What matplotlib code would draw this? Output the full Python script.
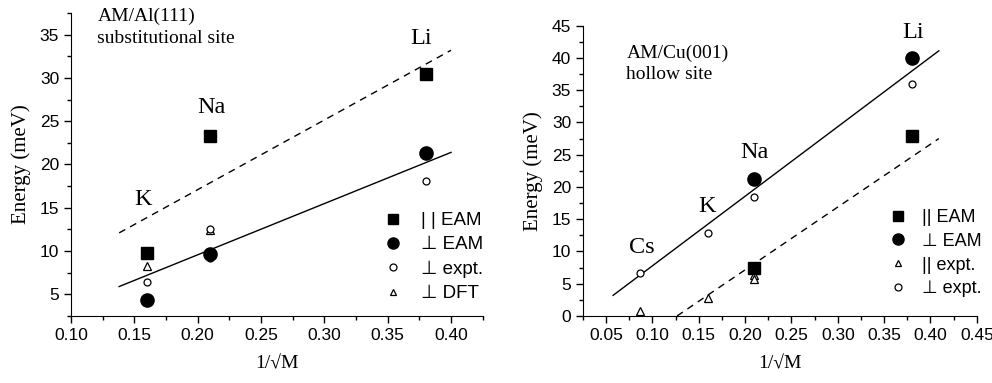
import numpy as np
import matplotlib
matplotlib.use('Agg')
import matplotlib.pyplot as plt
from matplotlib.ticker import MultipleLocator, AutoMinorLocator
from matplotlib.lines import Line2D

# Painel esquerdo: AM/Al(111), sitio substitucional
al_x = [0.16, 0.21, 0.38]
al_par_eam = [9.8, 23.3, 30.4]
al_perp_eam = [4.4, 9.7, 21.3]
al_perp_expt_x = [0.16, 0.21, 0.21, 0.38]
al_perp_expt = [6.4, 12.5, 9.2, 18.1]
al_perp_dft_x = [0.16, 0.21]
al_perp_dft = [8.3, 12.4]
al_fit_x = [0.138, 0.40]
al_fit_solid = [5.9, 21.4]
al_fit_dash = [12.1, 33.2]
al_names = ['K', 'Na', 'Li']
al_name_pos = [(0.157, 16.0), (0.211, 26.6), (0.376, 34.5)]

# Painel direito: AM/Cu(001), sitio hollow
cu_eam_x = [0.21, 0.38]
cu_par_eam = [7.4, 27.9]
cu_perp_eam = [21.3, 40.0]
cu_par_expt_x = [0.087, 0.16, 0.21, 0.21]
cu_par_expt = [0.7, 2.8, 6.3, 5.7]
cu_perp_expt_x = [0.087, 0.16, 0.21, 0.38]
cu_perp_expt = [6.7, 12.9, 18.5, 36.0]
cu_fit_solid_x = [0.0575, 0.409]
cu_fit_solid = [3.2, 41.1]
cu_fit_dash_x = [0.1265, 0.409]
cu_fit_dash = [0.0, 27.5]
cu_names = ['Cs', 'K', 'Na', 'Li']
cu_name_pos = [(0.089, 10.6), (0.159, 17.0), (0.21, 25.3), (0.381, 44.0)]

serif = 'Liberation Serif'
sans = ['Liberation Sans', 'DejaVu Sans']
plt.rcParams['font.family'] = sans

fig = plt.figure(figsize=(9.92, 3.83), dpi=100)
ax1 = fig.add_axes([0.0716, 0.175, 0.415, 0.791])
ax2 = fig.add_axes([0.5877, 0.175, 0.397, 0.758])

sq = dict(marker='s', color='black', ms=9, ls='none')
fc = dict(marker='o', color='black', ms=9.5, ls='none')
oc = dict(marker='o', mfc='white', mec='black', ms=5, mew=0.9, ls='none')
tr = dict(marker='^', mfc='white', mec='black', ms=5.5, mew=0.9, ls='none')

# esquerda
ax1.plot(al_fit_x, al_fit_dash, 'k--', lw=1, dashes=(5, 4))
ax1.plot(al_fit_x, al_fit_solid, 'k-', lw=1)
ax1.plot(al_perp_dft_x, al_perp_dft, **tr)
ax1.plot(al_perp_expt_x, al_perp_expt, **oc)
ax1.plot(al_x, al_par_eam, **sq)
ax1.plot(al_x, al_perp_eam, **fc)
for n, (px, py) in zip(al_names, al_name_pos):
    ax1.text(px, py, n, family=serif, fontsize=17.5, ha='center', va='center')
ax1.text(0.064, 1.018, 'AM/Al(111)\nsubstitutional site', transform=ax1.transAxes,
         family=serif, fontsize=14, va='top', ha='left', linespacing=1.4)
ax1.set_xlim(0.10, 0.425)
ax1.set_ylim(2.5, 37.5)
ax1.xaxis.set_major_locator(MultipleLocator(0.05))
ax1.set_yticks(np.arange(5, 36, 5))

# direita
ax2.plot(cu_fit_solid_x, cu_fit_solid, 'k-', lw=1)
ax2.plot(cu_fit_dash_x, cu_fit_dash, 'k--', lw=1, dashes=(5, 4))
ax2.plot(cu_par_expt_x, cu_par_expt, **tr)
ax2.plot(cu_perp_expt_x, cu_perp_expt, **oc)
ax2.plot(cu_eam_x, cu_par_eam, **sq)
ax2.plot(cu_eam_x, cu_perp_eam, **fc)
for n, (px, py) in zip(cu_names, cu_name_pos):
    ax2.text(px, py, n, family=serif, fontsize=17.5, ha='center', va='center')
ax2.text(0.11, 0.935, 'AM/Cu(001)\nhollow site', transform=ax2.transAxes,
         family=serif, fontsize=14, va='top', ha='left', linespacing=1.3)
ax2.set_xlim(0.025, 0.45)
ax2.set_ylim(0, 45)
ax2.set_xticks(np.arange(0.05, 0.451, 0.05))
ax2.yaxis.set_major_locator(MultipleLocator(5))

for ax in (ax1, ax2):
    for s in ('top', 'right'):
        ax.spines[s].set_visible(False)
    ax.xaxis.set_minor_locator(AutoMinorLocator(2))
    ax.yaxis.set_minor_locator(AutoMinorLocator(2))
    ax.tick_params(which='major', direction='out', length=5, width=1, labelsize=12.5)
    ax.tick_params(which='minor', direction='out', length=3, width=1)
    ax.xaxis.set_major_formatter(plt.FormatStrFormatter('%.2f'))
    ax.set_xlabel('1/\u221aM', family=serif, fontsize=14, labelpad=9)
    ax.set_ylabel('Energy (meV)', family=serif, fontsize=15, labelpad=6)

def h(style):
    return Line2D([], [], **style)

leg_sq = dict(sq, ms=7)
leg_fc = dict(fc, ms=8)
leg_oc = dict(oc, ms=5)
leg_tr = dict(tr, ms=5)

ax1.legend([h(leg_sq), h(leg_fc), h(leg_oc), h(leg_tr)],
           ['| | EAM', '\u22a5 EAM', '\u22a5 expt.', '\u22a5 DFT'],
           loc='upper left', bbox_to_anchor=(0.759, 0.343), frameon=False,
           handlelength=1.0, handletextpad=1.0, labelspacing=0.38,
           borderpad=0, borderaxespad=0, prop={'family': sans, 'size': 13.5})
ax2.legend([h(leg_sq), h(leg_fc), h(leg_tr), h(leg_oc)],
           ['|| EAM', '\u22a5 EAM', '|| expt.', '\u22a5 expt.'],
           loc='upper left', bbox_to_anchor=(0.778, 0.369), frameon=False,
           handlelength=1.0, handletextpad=0.8, labelspacing=0.38,
           borderpad=0, borderaxespad=0, prop={'family': sans, 'size': 13})

fig.savefig('out.png', dpi=100)
